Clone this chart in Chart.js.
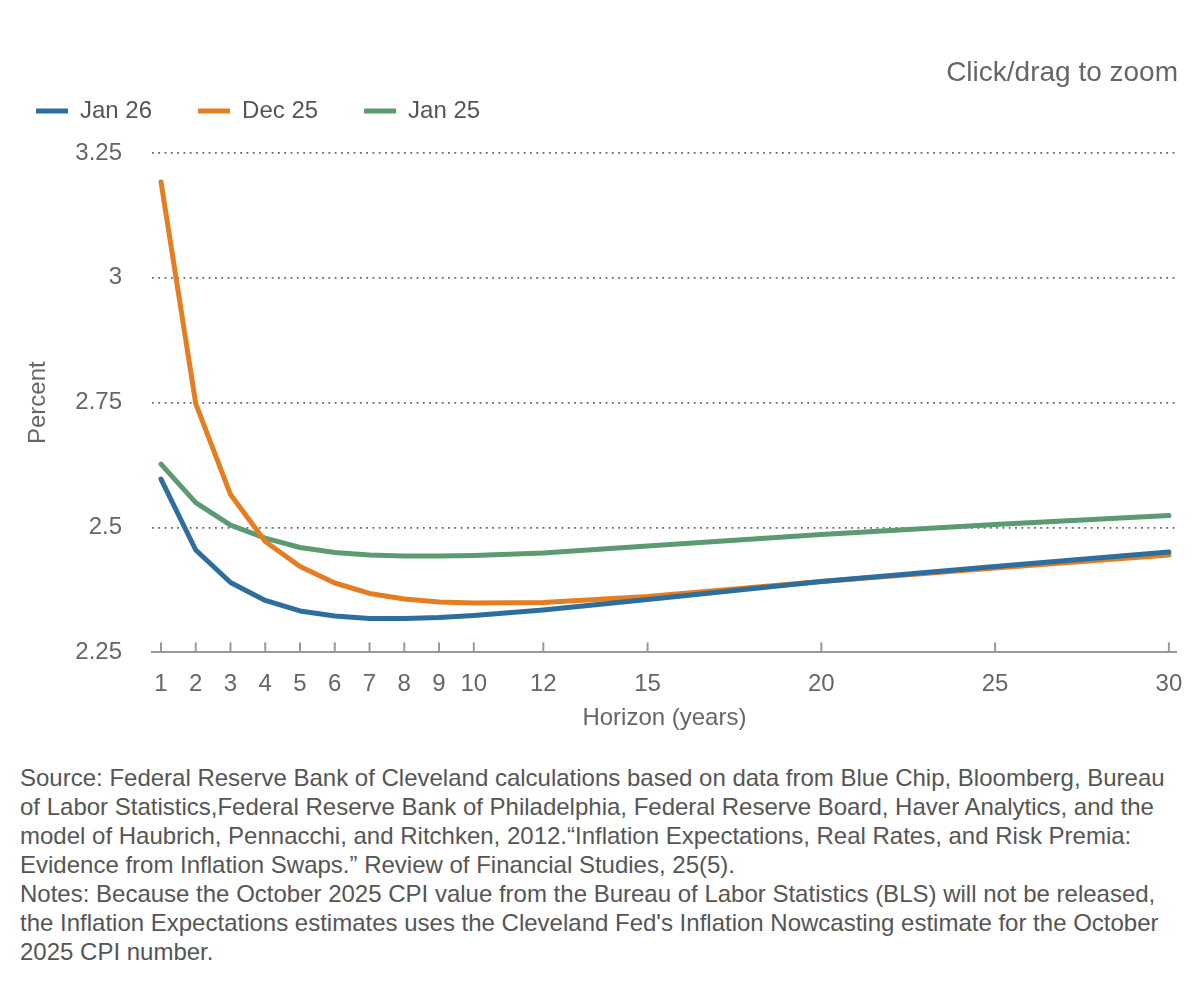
<!DOCTYPE html>
<html>
<head>
<meta charset="utf-8">
<script src="https://cdn.jsdelivr.net/npm/chart.js@4.4.1/dist/chart.umd.min.js"></script>
<style>
  body { margin: 0; background: #fff; }
  #wrap { position: relative; width: 1200px; height: 740px; }
  #notes {
    position: absolute; left: 20px; top: 763px;
    font-family: 'Liberation Sans', Arial, sans-serif;
    font-size: 24px; line-height: 29px; color: #555;
    white-space: nowrap;
  }
</style>
</head>
<body>
<div id="wrap"><canvas id="chart"></canvas></div>
<div id="notes">
Source: Federal Reserve Bank of Cleveland calculations based on data from Blue Chip, Bloomberg, Bureau<br>
of Labor Statistics,Federal Reserve Bank of Philadelphia, Federal Reserve Board, Haver Analytics, and the<br>
model of Haubrich, Pennacchi, and Ritchken, 2012.“Inflation Expectations, Real Rates, and Risk Premia:<br>
Evidence from Inflation Swaps.” Review of Financial Studies, 25(5).<br>
Notes: Because the October 2025 CPI value from the Bureau of Labor Statistics (BLS) will not be released,<br>
the Inflation Expectations estimates uses the Cleveland Fed's Inflation Nowcasting estimate for the October<br>
2025 CPI number.
</div>
<script>
// horizon in years
const years = [1, 2, 3, 4, 5, 6, 7, 8, 9, 10, 12, 15, 20, 25, 30];

// expected inflation, percent
const jan26 = [2.597, 2.455, 2.390, 2.354, 2.333, 2.323, 2.318, 2.318, 2.320, 2.324, 2.335, 2.356, 2.392, 2.422, 2.451];
const dec25 = [3.192, 2.748, 2.566, 2.472, 2.422, 2.389, 2.368, 2.357, 2.351, 2.349, 2.350, 2.362, 2.392, 2.419, 2.445];
const jan25 = [2.627, 2.550, 2.505, 2.479, 2.460, 2.450, 2.445, 2.443, 2.443, 2.444, 2.449, 2.463, 2.486, 2.506, 2.524];

const seriesNames = ['Jan 26', 'Dec 25', 'Jan 25'];

// axis ticks
const xTickValues = [1, 2, 3, 4, 5, 6, 7, 8, 9, 10, 12, 15, 20, 25, 30];
const yTickValues = [2.25, 2.5, 2.75, 3, 3.25];
const yTickLabels = ['2.25', '2.5', '2.75', '3', '3.25'];

const colors = ['#2d6e9c', '#e57e20', '#5c9a72'];
const textColor = '#666';

Chart.defaults.font.family = "'Liberation Sans', Arial, sans-serif";

function toPoints(vals) {
  return vals.map((v, i) => ({ x: years[i], y: v }));
}

// legend items are spread wide, but the box itself should stay short
const legendHeightFix = {
  id: 'legendHeightFix',
  beforeLayout(chart) {
    const lg = chart.legend;
    if (lg && !lg._fixed) {
      const orig = lg.fit.bind(lg);
      lg.fit = function () { orig(); this.height = 100; };
      lg._fixed = true;
    }
  }
};

// little tick marks standing up from the x axis line
const xTickMarks = {
  id: 'xTickMarks',
  afterDraw(chart) {
    const sc = chart.scales.x;
    const ctx = chart.ctx;
    const bottom = chart.chartArea.bottom;
    ctx.save();
    ctx.strokeStyle = '#999';
    ctx.lineWidth = 2;
    sc.ticks.forEach(t => {
      const px = sc.getPixelForValue(t.value);
      ctx.beginPath();
      ctx.moveTo(px, bottom - 10);
      ctx.lineTo(px, bottom);
      ctx.stroke();
    });
    ctx.restore();
  }
};

const datasets = [jan26, dec25, jan25].map((vals, i) => ({
  label: seriesNames[i],
  data: toPoints(vals),
  borderColor: colors[i],
  backgroundColor: colors[i],
  borderWidth: 5,
  pointRadius: 0,
  pointHoverRadius: 0,
  tension: 0,
  borderCapStyle: 'round',
  borderJoinStyle: 'round'
}));

new Chart(document.getElementById('chart'), {
  type: 'line',
  data: { datasets: datasets },
  options: {
    responsive: true,
    maintainAspectRatio: false,
    animation: false,
    layout: { padding: { left: -10, right: 22, top: 0, bottom: 0 } },
    plugins: {
      title: {
        display: true,
        text: 'Click/drag to zoom',
        align: 'end',
        color: textColor,
        font: { size: 28, weight: 'normal' },
        padding: { top: 56.2, bottom: -36.8 }
      },
      legend: {
        display: true,
        position: 'top',
        align: 'start',
        labels: {
          color: '#555',
          font: { size: 24 },
          boxWidth: 32,
          boxHeight: 5,
          padding: 46,
          generateLabels(chart) {
            return chart.data.datasets.map((ds, i) => ({
              text: ds.label,
              fillStyle: ds.borderColor,
              strokeStyle: ds.borderColor,
              lineWidth: 0,
              fontColor: '#555',
              datasetIndex: i
            }));
          }
        }
      },
      tooltip: { enabled: false }
    },
    scales: {
      x: {
        type: 'linear',
        min: 0.7413,
        max: 30.23,
        afterBuildTicks(scale) {
          scale.ticks = xTickValues.map(v => ({ value: v }));
        },
        ticks: {
          autoSkip: false,
          maxRotation: 0,
          color: textColor,
          font: { size: 24 },
          padding: 17.6,
          callback: v => String(v)
        },
        grid: { display: false, drawTicks: false },
        border: { display: true, color: '#999', width: 2 },
        title: {
          display: true,
          text: 'Horizon (years)',
          color: textColor,
          font: { size: 24 },
          padding: { top: -12.8, bottom: 7.6 }
        }
      },
      y: {
        min: 2.25,
        max: 3.25,
        afterBuildTicks(scale) {
          scale.ticks = yTickValues.map(v => ({ value: v }));
        },
        afterFit(scale) {
          scale.width = 162;
        },
        ticks: {
          color: textColor,
          font: { size: 24 },
          padding: 30,
          callback: (v, i) => yTickLabels[i]
        },
        grid: {
          drawTicks: false,
          color: ctx => (ctx.tick && ctx.tick.value === 2.25) ? 'rgba(0,0,0,0)' : '#666',
          lineWidth: 1.8
        },
        border: { display: false, dash: [1.8, 4.5] },
        title: {
          display: true,
          text: 'Percent',
          color: textColor,
          font: { size: 24 },
          padding: { top: 33.6, bottom: 0 }
        }
      }
    }
  },
  plugins: [legendHeightFix, xTickMarks]
});
</script>
</body>
</html>
